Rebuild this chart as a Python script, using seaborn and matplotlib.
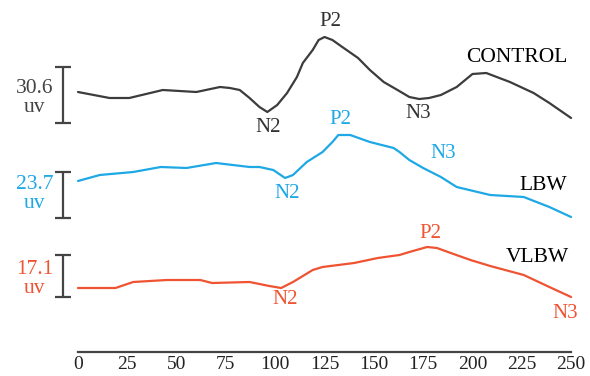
import numpy as np
import pandas as pd
import matplotlib
matplotlib.use("Agg")
import matplotlib.pyplot as plt
import seaborn as sns

# latency (ms) and amplitude (arbitrary units, relative to trace start)
control_t = [0, 16, 26, 43, 60, 72, 77, 82, 87, 92, 96, 101, 106, 111, 114, 119, 122, 125, 129, 134,
             142, 148, 155, 162, 168, 173, 178, 184, 192, 200, 207, 219, 231, 239, 250]
control_amp = [0, -6, -6, 2, 0, 5, 4, 2, -6, -15, -20, -13, -1, 15, 29, 42, 52, 55, 52, 45,
               34, 22, 10, 2, -5, -7, -6, -3, 5, 18, 19, 10, -1, -11, -26]

lbw_t = [0, 11, 28, 42, 55, 70, 87, 92, 99, 105, 109, 116, 124, 129, 132, 138, 148, 160, 163, 168,
         175, 184, 192, 209, 226, 239, 250]
lbw_amp = [0, 6, 9, 14, 13, 18, 14, 14, 11, 3, 6, 19, 29, 39, 46, 46, 39, 33, 29, 21,
           13, 4, -6, -14, -16, -26, -36]

vlbw_t = [0, 19, 28, 45, 62, 68, 87, 97, 103, 109, 119, 124, 140, 152, 163, 168, 177, 182, 189, 199,
          209, 226, 239, 250]
vlbw_amp = [0, 0, 6, 8, 8, 5, 6, 2, 0, 6, 18, 21, 25, 30, 33, 36, 41, 40, 35, 28,
            22, 13, 1, -9]

groups = ["CONTROL", "LBW", "VLBW"]
scale_uv = ["30.6", "23.7", "17.1"]
xticks = [0, 25, 50, 75, 100, 125, 150, 175, 200, 225, 250]

colors = {"CONTROL": "#3c3c3c", "LBW": "#1ea8e6", "VLBW": "#ef5332"}
offsets = {"CONTROL": -92, "LBW": -181, "VLBW": -288}
bars = {"CONTROL": (-67, -123), "LBW": (-172, -218), "VLBW": (-255, -297)}
scale_y = {"CONTROL": -98, "LBW": -194, "VLBW": -279}

# peak labels: (text, x, y) in plot coordinates
peak_labels = {
    "CONTROL": [("P2", 127.8, -22), ("N2", 96.3, -127), ("N3", 172.4, -113)],
    "LBW": [("P2", 132.9, -120), ("N2", 106, -193), ("N3", 185, -153)],
    "VLBW": [("P2", 178.5, -234), ("N2", 105, -300), ("N3", 247, -314)],
}
name_pos = {"CONTROL": (222.6, -57), "LBW": (235.8, -186), "VLBW": (232.8, -257)}

frames = []
for g, t, a in zip(groups, [control_t, lbw_t, vlbw_t], [control_amp, lbw_amp, vlbw_amp]):
    frames.append(pd.DataFrame({"t": t, "amp": np.array(a) + offsets[g], "group": g}))
df = pd.concat(frames, ignore_index=True)

sns.set_style("white")
plt.rcParams["font.family"] = ["Liberation Serif", "DejaVu Serif"]

fig = plt.figure(figsize=(5.9, 3.76), dpi=100)
ax = fig.add_axes([0, 0, 1, 1])

sns.lineplot(data=df, x="t", y="amp", hue="group", palette=colors, linewidth=1.6,
             legend=False, ax=ax, sort=False)

bar_x = -7.6
cap = 4.3
for g, uv in zip(groups, scale_uv):
    y0, y1 = bars[g]
    ax.vlines(bar_x, y1, y0, color="#444444", lw=1.6)
    ax.hlines([y0, y1], bar_x - cap, bar_x + cap, color="#444444", lw=1.6)
    ax.text(-22, scale_y[g], uv + "\nuv", ha="center", va="center", fontsize=15.5,
            color=colors[g] if g != "CONTROL" else "#444444", linespacing=0.95)
    for txt, x, y in peak_labels[g]:
        ax.text(x, y, txt, ha="center", va="center", fontsize=15,
                color=colors[g] if g != "CONTROL" else "#333333")
    nx, ny = name_pos[g]
    ax.text(nx, ny, g, ha="center", va="center", fontsize=15.5, color="black")

ax.set_xlim(-39.55, 259.6)
ax.set_ylim(-376, 0)
for s in ["left", "top", "right"]:
    ax.spines[s].set_visible(False)
ax.spines["bottom"].set_position(("data", -352))
ax.spines["bottom"].set_bounds(0, 250)
ax.spines["bottom"].set_color("#444444")
ax.spines["bottom"].set_linewidth(1.6)
ax.set_xticks(xticks)
ax.set_xticklabels([str(v) for v in xticks])
ax.tick_params(axis="x", direction="in", length=7, width=1.6, color="#444444",
               labelsize=14, pad=3, labelcolor="#222222")
ax.set_yticks([])
ax.set_xlabel("")
ax.set_ylabel("")

fig.savefig("out.png", dpi=100)
